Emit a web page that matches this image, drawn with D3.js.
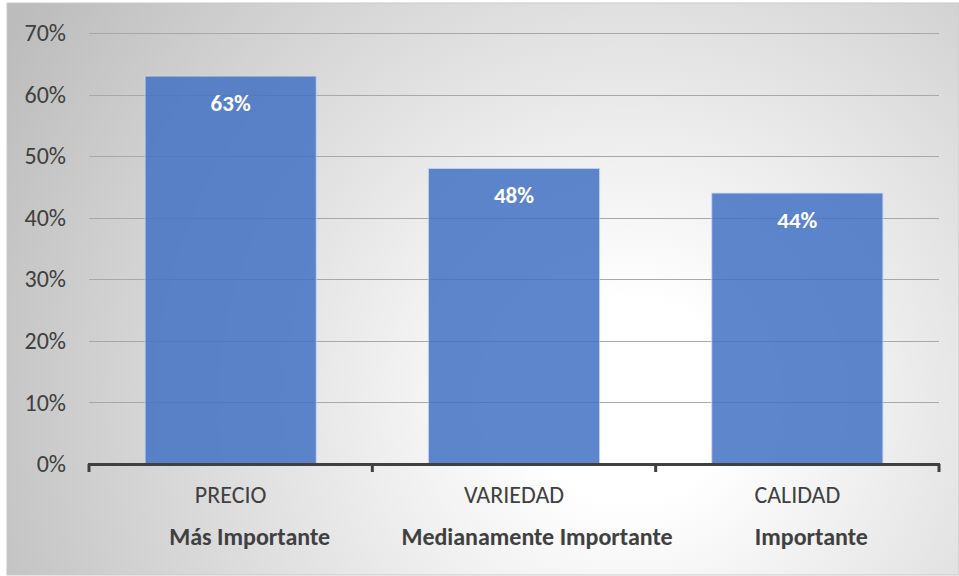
<!DOCTYPE html>
<html>
<head>
<meta charset="utf-8">
<script src="https://cdn.jsdelivr.net/npm/d3@7"></script>
<style>
  html, body { margin: 0; padding: 0; background: #fff; }
  svg { display: block; }
  text { font-family: Carlito, Calibri, Lato, "Open Sans", sans-serif; }
</style>
</head>
<body>
<svg id="chart" width="959" height="576"></svg>
<script>
// Attribute rating: share of respondents per attribute
const categories = ["PRECIO", "VARIEDAD", "CALIDAD"];
const ratings = ["Más Importante", "Medianamente Importante", "Importante"];
const values = [63, 48, 44];
const yTicks = [0, 10, 20, 30, 40, 50, 60, 70];

const svg = d3.select("#chart");
const W = 959, H = 576;
const plot = { left: 89, right: 939, top: 33, bottom: 464 };
const FONT = "Carlito, Calibri, Lato, 'Open Sans', sans-serif";

// Soft radial background of the chart area
const defs = svg.append("defs");
const grad = defs.append("radialGradient")
  .attr("id", "bg")
  .attr("gradientUnits", "userSpaceOnUse")
  .attr("cx", 630).attr("cy", 400).attr("r", 720);
grad.append("stop").attr("offset", "0%").attr("stop-color", "#ffffff");
grad.append("stop").attr("offset", "14%").attr("stop-color", "#ffffff");
grad.append("stop").attr("offset", "100%").attr("stop-color", "#bcbcbc");

svg.append("rect")
  .attr("x", 7).attr("y", 3)
  .attr("width", W - 7).attr("height", H - 4)
  .attr("fill", "url(#bg)")
  .attr("stroke", "#c9c9c9").attr("stroke-width", 1);

const x = d3.scaleBand()
  .domain(categories)
  .range([plot.left, plot.right])
  .paddingInner(0.396)
  .paddingOuter(0.198);

const y = d3.scaleLinear()
  .domain([0, 70])
  .range([plot.bottom, plot.top]);

// Horizontal gridlines
svg.append("g")
  .selectAll("line")
  .data(yTicks.filter(d => d > 0))
  .join("line")
  .attr("x1", plot.left).attr("x2", plot.right)
  .attr("y1", d => Math.round(y(d)) + 0.5)
  .attr("y2", d => Math.round(y(d)) + 0.5)
  .attr("stroke", "#a8a8a8")
  .attr("stroke-width", 1.2);

// Y axis labels
const yAxis = d3.axisLeft(y)
  .tickValues(yTicks)
  .tickFormat(d => d + "%")
  .tickSize(0)
  .tickPadding(23);
const gy = svg.append("g")
  .attr("transform", `translate(${plot.left},0)`)
  .call(yAxis);
gy.select(".domain").remove();
gy.selectAll("text")
  .attr("font-size", 24)
  .attr("fill", "#404040")
  .style("font-family", FONT);

// Bars
svg.append("g")
  .selectAll("rect")
  .data(values)
  .join("rect")
  .attr("x", (d, i) => x(categories[i]))
  .attr("y", d => y(d))
  .attr("width", x.bandwidth())
  .attr("height", d => y(0) - y(d))
  .attr("fill", "#4472c4")
  .attr("fill-opacity", 0.86)
  .attr("stroke", "#c8d6f0")
  .attr("stroke-opacity", 0.8)
  .attr("stroke-width", 1);

// Value labels inside bars
svg.append("g")
  .selectAll("text")
  .data(values)
  .join("text")
  .attr("x", (d, i) => x(categories[i]) + x.bandwidth() / 2)
  .attr("y", d => y(d) + 35)
  .attr("text-anchor", "middle")
  .attr("font-size", 23)
  .attr("font-weight", "bold")
  .attr("fill", "#ffffff")
  .text(d => d + "%");

// X axis line with ticks at category boundaries
const step = x.step();
const bounds = d3.range(categories.length + 1).map(i => plot.left + i * step);
svg.append("line")
  .attr("x1", plot.left - 1).attr("x2", plot.right + 1)
  .attr("y1", y(0) + 0.5).attr("y2", y(0) + 0.5)
  .attr("stroke", "#404040").attr("stroke-width", 3);
svg.append("g")
  .selectAll("line")
  .data(bounds)
  .join("line")
  .attr("x1", d => d).attr("x2", d => d)
  .attr("y1", y(0)).attr("y2", y(0) + 8)
  .attr("stroke", "#404040").attr("stroke-width", 3);

// Category labels
svg.append("g")
  .selectAll("text")
  .data(categories)
  .join("text")
  .attr("x", d => x(d) + x.bandwidth() / 2)
  .attr("y", 503)
  .attr("text-anchor", "middle")
  .attr("font-size", 24)
  .attr("fill", "#404040")
  .text(d => d);

// Rating labels beneath each category
const ratingShift = [19, 23, 14];
svg.append("g")
  .selectAll("text")
  .data(ratings)
  .join("text")
  .attr("x", (d, i) => x(categories[i]) + x.bandwidth() / 2 + ratingShift[i])
  .attr("y", 545)
  .attr("text-anchor", "middle")
  .attr("font-size", 24)
  .attr("font-weight", "bold")
  .attr("fill", "#404040")
  .text(d => d);
</script>
</body>
</html>
